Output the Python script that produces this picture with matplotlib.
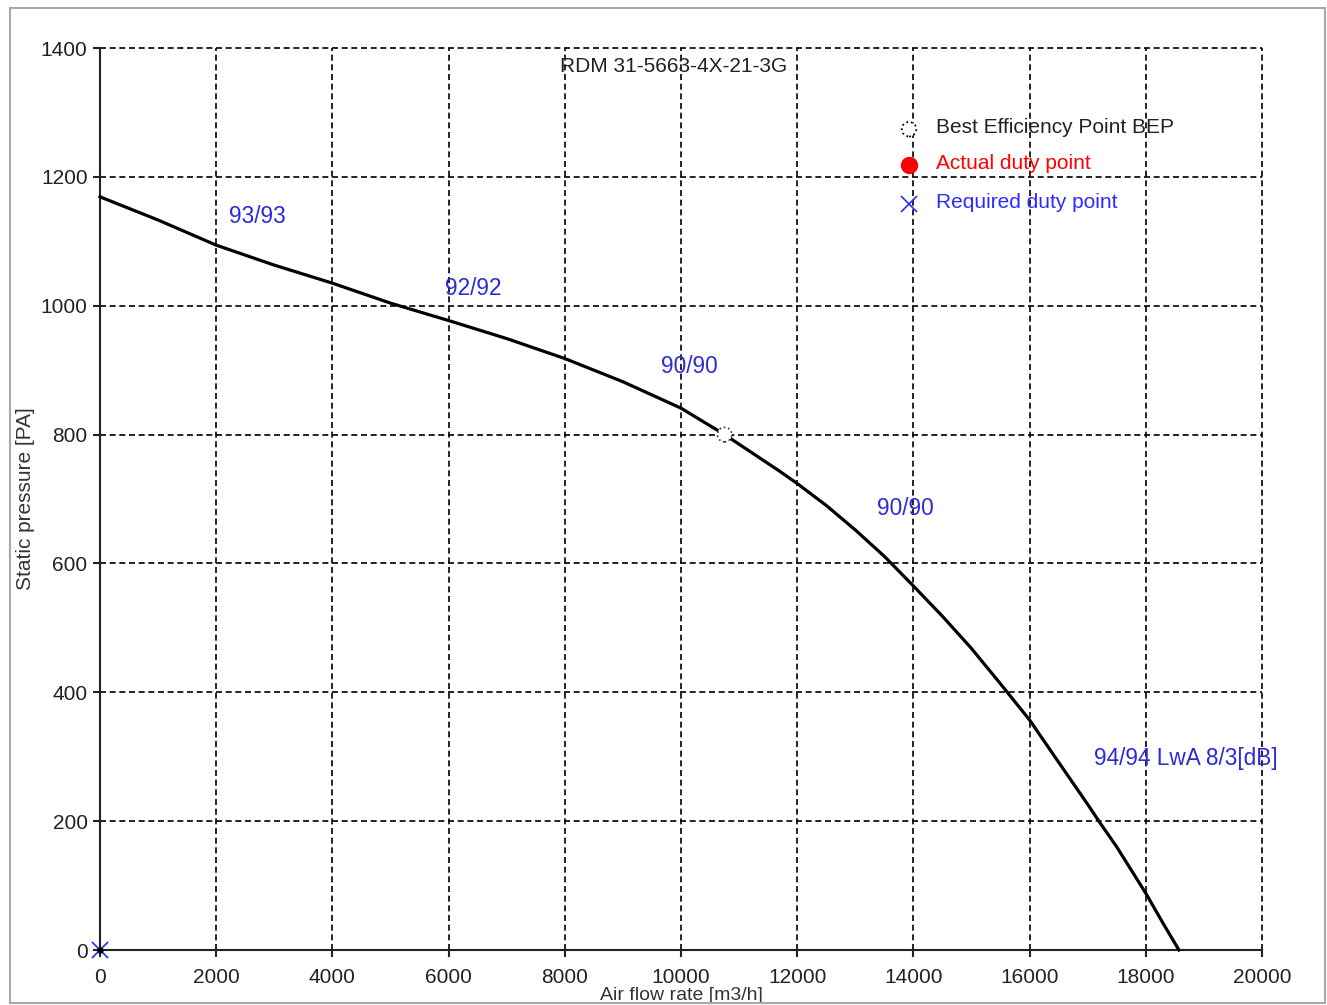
import matplotlib
matplotlib.use("Agg")
import matplotlib.pyplot as plt
from matplotlib.patches import Rectangle

# ---- data ----
flow = [0, 1000, 2000, 3000, 4000, 5000, 6000, 7000, 8000, 9000, 10000, 10750,
        11000, 11700, 12000, 12500, 13000, 13500, 14000, 14500, 15000, 15500,
        16000, 16350, 17000, 17200, 17500, 18000, 18300, 18570]
pressure = [1169, 1133, 1094, 1063, 1035, 1004, 977, 949, 918, 882, 841, 800,
            785, 743, 724, 690, 652, 611, 565, 518, 468, 413,
            357, 311, 226, 199, 160, 88, 41, 0]

bep = (10750, 800)
required = (0, 0)

xticks = [0, 2000, 4000, 6000, 8000, 10000, 12000, 14000, 16000, 18000, 20000]
yticks = [0, 200, 400, 600, 800, 1000, 1200, 1400]

annot_text = ["93/93", "92/92", "90/90", "90/90", "94/94 LwA 8/3[dB]"]
annot_x = [2220, 5940, 9650, 13370, 17110]
annot_y = [1138, 1026, 905, 686, 297]

title = "RDM 31-5663-4X-21-3G"
legend_labels = ["Best Efficiency Point BEP", "Actual duty point", "Required duty point"]
legend_x = 13925
legend_text_x = 14390
legend_y = [1274, 1218, 1158]

# ---- figure ----
plt.rcParams['font.family'] = ['Liberation Sans', 'DejaVu Sans']
fig = plt.figure(figsize=(13.27, 10.05), dpi=100)
fig.patch.set_facecolor('white')
fig.add_artist(Rectangle((10/1327, 2/1005), 1315/1327, 995/1005,
                         transform=fig.transFigure, fill=False,
                         edgecolor='#a8a8a8', linewidth=1.5))

ax = fig.add_axes([100/1327, 55/1005, 1162/1327, 902/1005])
ax.set_xlim(0, 20000)
ax.set_ylim(0, 1400)
ax.set_xticks(xticks)
ax.set_yticks(yticks)
ax.set_xticklabels([str(v) for v in xticks])
ax.set_yticklabels([str(v) for v in yticks])

ax.grid(True, color='black', linestyle=(0, (3.6, 2.2)), linewidth=1.2)
ax.set_axisbelow(True)
for gl in ax.get_xgridlines() + ax.get_ygridlines():
    gl.set_clip_on(False)
for s in ['top', 'right']:
    ax.spines[s].set_visible(False)
for s in ['left', 'bottom']:
    ax.spines[s].set_color('#222222')
    ax.spines[s].set_linewidth(1.5)
    ax.spines[s].set_zorder(3)
ax.tick_params(axis='both', length=5, width=1.5, color='#222222',
               labelsize=15, labelcolor='#222222')
ax.tick_params(axis='x', pad=8)
ax.tick_params(axis='y', pad=4)

ax.set_xlabel("Air flow rate [m3/h]", fontsize=14, color='#333333', labelpad=0)
ax.set_ylabel("Static pressure [PA]", fontsize=15, color='#333333', labelpad=4)

ax.plot(flow, pressure, color='black', linewidth=2.3, zorder=4, clip_on=False,
        solid_joinstyle='round')

# BEP marker (dotted circle)
ax.scatter([bep[0]], [bep[1]], s=110, facecolors='white', edgecolors='#333333',
           linewidths=1.2, linestyles=':', zorder=5)
# Required duty point
ax.plot([required[0]], [required[1]], marker='x', markersize=12, color='#3333ff',
        markeredgewidth=1.3, linestyle='none', zorder=6, clip_on=False)
ax.plot([required[0]], [required[1]], marker='o', markersize=3.5, color='black',
        linestyle='none', zorder=7, clip_on=False)

# title
ax.text(9880, 1372, title, fontsize=15, color='#222222', ha='center', va='center', zorder=6)

# annotations
for t, x, y in zip(annot_text, annot_x, annot_y):
    ax.text(x, y, t, fontsize=16.3, color='#2b2bd6', ha='left', va='center', zorder=6)

# legend-like entries
ax.scatter([legend_x], [legend_y[0]], s=110, facecolors='white', edgecolors='black',
           linewidths=1.3, linestyles=':', zorder=6)
ax.plot([legend_x], [legend_y[1]], marker='o', markersize=11.5, color='red',
        linestyle='none', zorder=6)
ax.plot([legend_x], [legend_y[2]], marker='x', markersize=12, color='#2b2bff',
        markeredgewidth=1.2, linestyle='none', zorder=6)
legend_colors = ['#222222', 'red', '#2b2bff']
for lab, y, c in zip(legend_labels, legend_y, legend_colors):
    ax.text(legend_text_x, y + 2, lab, fontsize=15, color=c, ha='left', va='center', zorder=6)

fig.savefig("out.png", dpi=100, facecolor='white')
